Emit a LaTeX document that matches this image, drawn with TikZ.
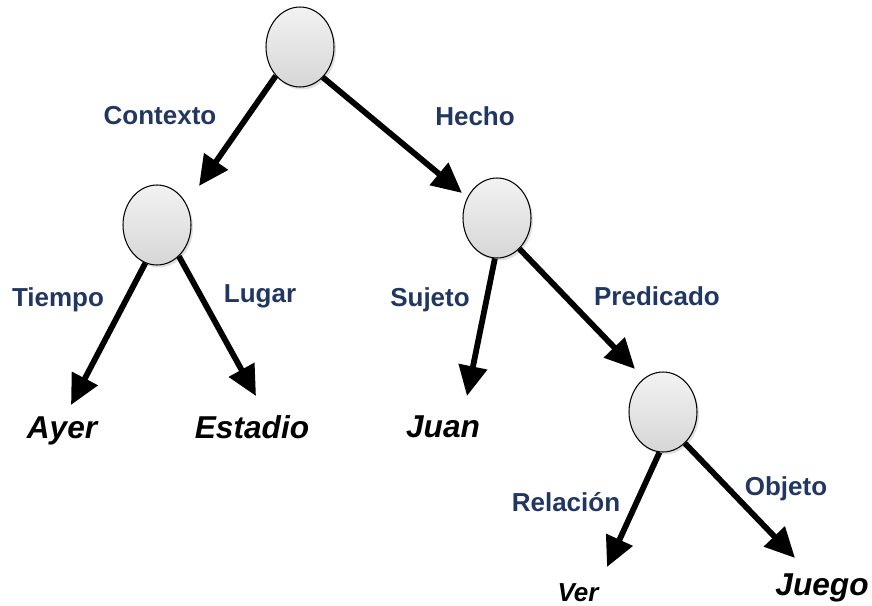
\documentclass[tikz,border=0pt]{standalone}
\usepackage{fontspec}
\setsansfont{Liberation Sans}
\usepackage{tikz}
\usetikzlibrary{shapes,shadows,arrows.meta}
\definecolor{lblblue}{RGB}{33,55,98}

\begin{document}
\begin{tikzpicture}[x=0.02cm, y=-0.02cm,
    knot/.style={draw,ellipse,line width=0.6pt,minimum width=1.36cm,minimum height=1.6cm,
      top color=gray!10,bottom color=gray!32,
      drop shadow={opacity=0.25,shadow xshift=0.04cm,shadow yshift=-0.05cm}},
    rel/.style={text=lblblue,inner sep=0pt,font=\sffamily\bfseries\fontsize{14.8}{16}\selectfont},
    leaf/.style={inner sep=0pt,font=\sffamily\bfseries\itshape\fontsize{18}{20}\selectfont},
    arr/.style={line width=3.3pt,-{Triangle[length=0.6cm,width=0.56cm]}}]
  \useasboundingbox (0,0) rectangle (872,605);

  % inner nodes
  \node[knot] (root) at (300,47) {};
  \node[knot] (ctx)  at (157,225) {};
  \node[knot] (fact) at (497,218) {};
  \node[knot] (pred) at (663,412) {};

  % leaves
  \node[leaf] (ayer)    at (62,431)  {Ayer};
  \node[leaf] (estadio) at (252,427) {Estadio};
  \node[leaf] (juan)    at (443,427) {Juan};
  \node[leaf,font=\sffamily\bfseries\itshape\fontsize{14.8}{16}\selectfont] (ver) at (578,593) {Ver};
  \node[leaf] (juego)   at (822,588) {Juego};

  % arrow tips
  \coordinate (tctx)     at (199,186);
  \coordinate (tfact)    at (462,193);
  \coordinate (tayer)    at (71,405);
  \coordinate (testadio) at (256,396);
  \coordinate (tjuan)    at (467,396);
  \coordinate (tpred)    at (635,369);
  \coordinate (tver)     at (607,567);
  \coordinate (tjuego)   at (795,558);

  \draw[arr] (root.230) -- (tctx);
  \draw[arr] (root.-53) -- (tfact);
  \draw[arr] (ctx.253)  -- (tayer);
  \draw[arr] (ctx.-55)  -- (testadio);
  \draw[arr] (fact.-93) -- (tjuan);
  \draw[arr] (fact.-54) -- (tpred);
  \draw[arr] (pred.-95) -- (tver);
  \draw[arr] (pred.-55) -- (tjuego);

  % edge labels
  \node[rel] (lctx)   at (160,116) {Contexto};
  \node[rel] (lfact)  at (475,116) {Hecho};
  \node[rel] (ltime)  at (58,300)  {Tiempo};
  \node[rel] (lplace) at (260,296) {Lugar};
  \node[rel] (lsubj)  at (430,300) {Sujeto};
  \node[rel] (lpred)  at (657,296) {Predicado};
  \node[rel] (lrel)   at (566,502) {Relación};
  \node[rel] (lobj)   at (786,489) {Objeto};
\end{tikzpicture}
\end{document}
